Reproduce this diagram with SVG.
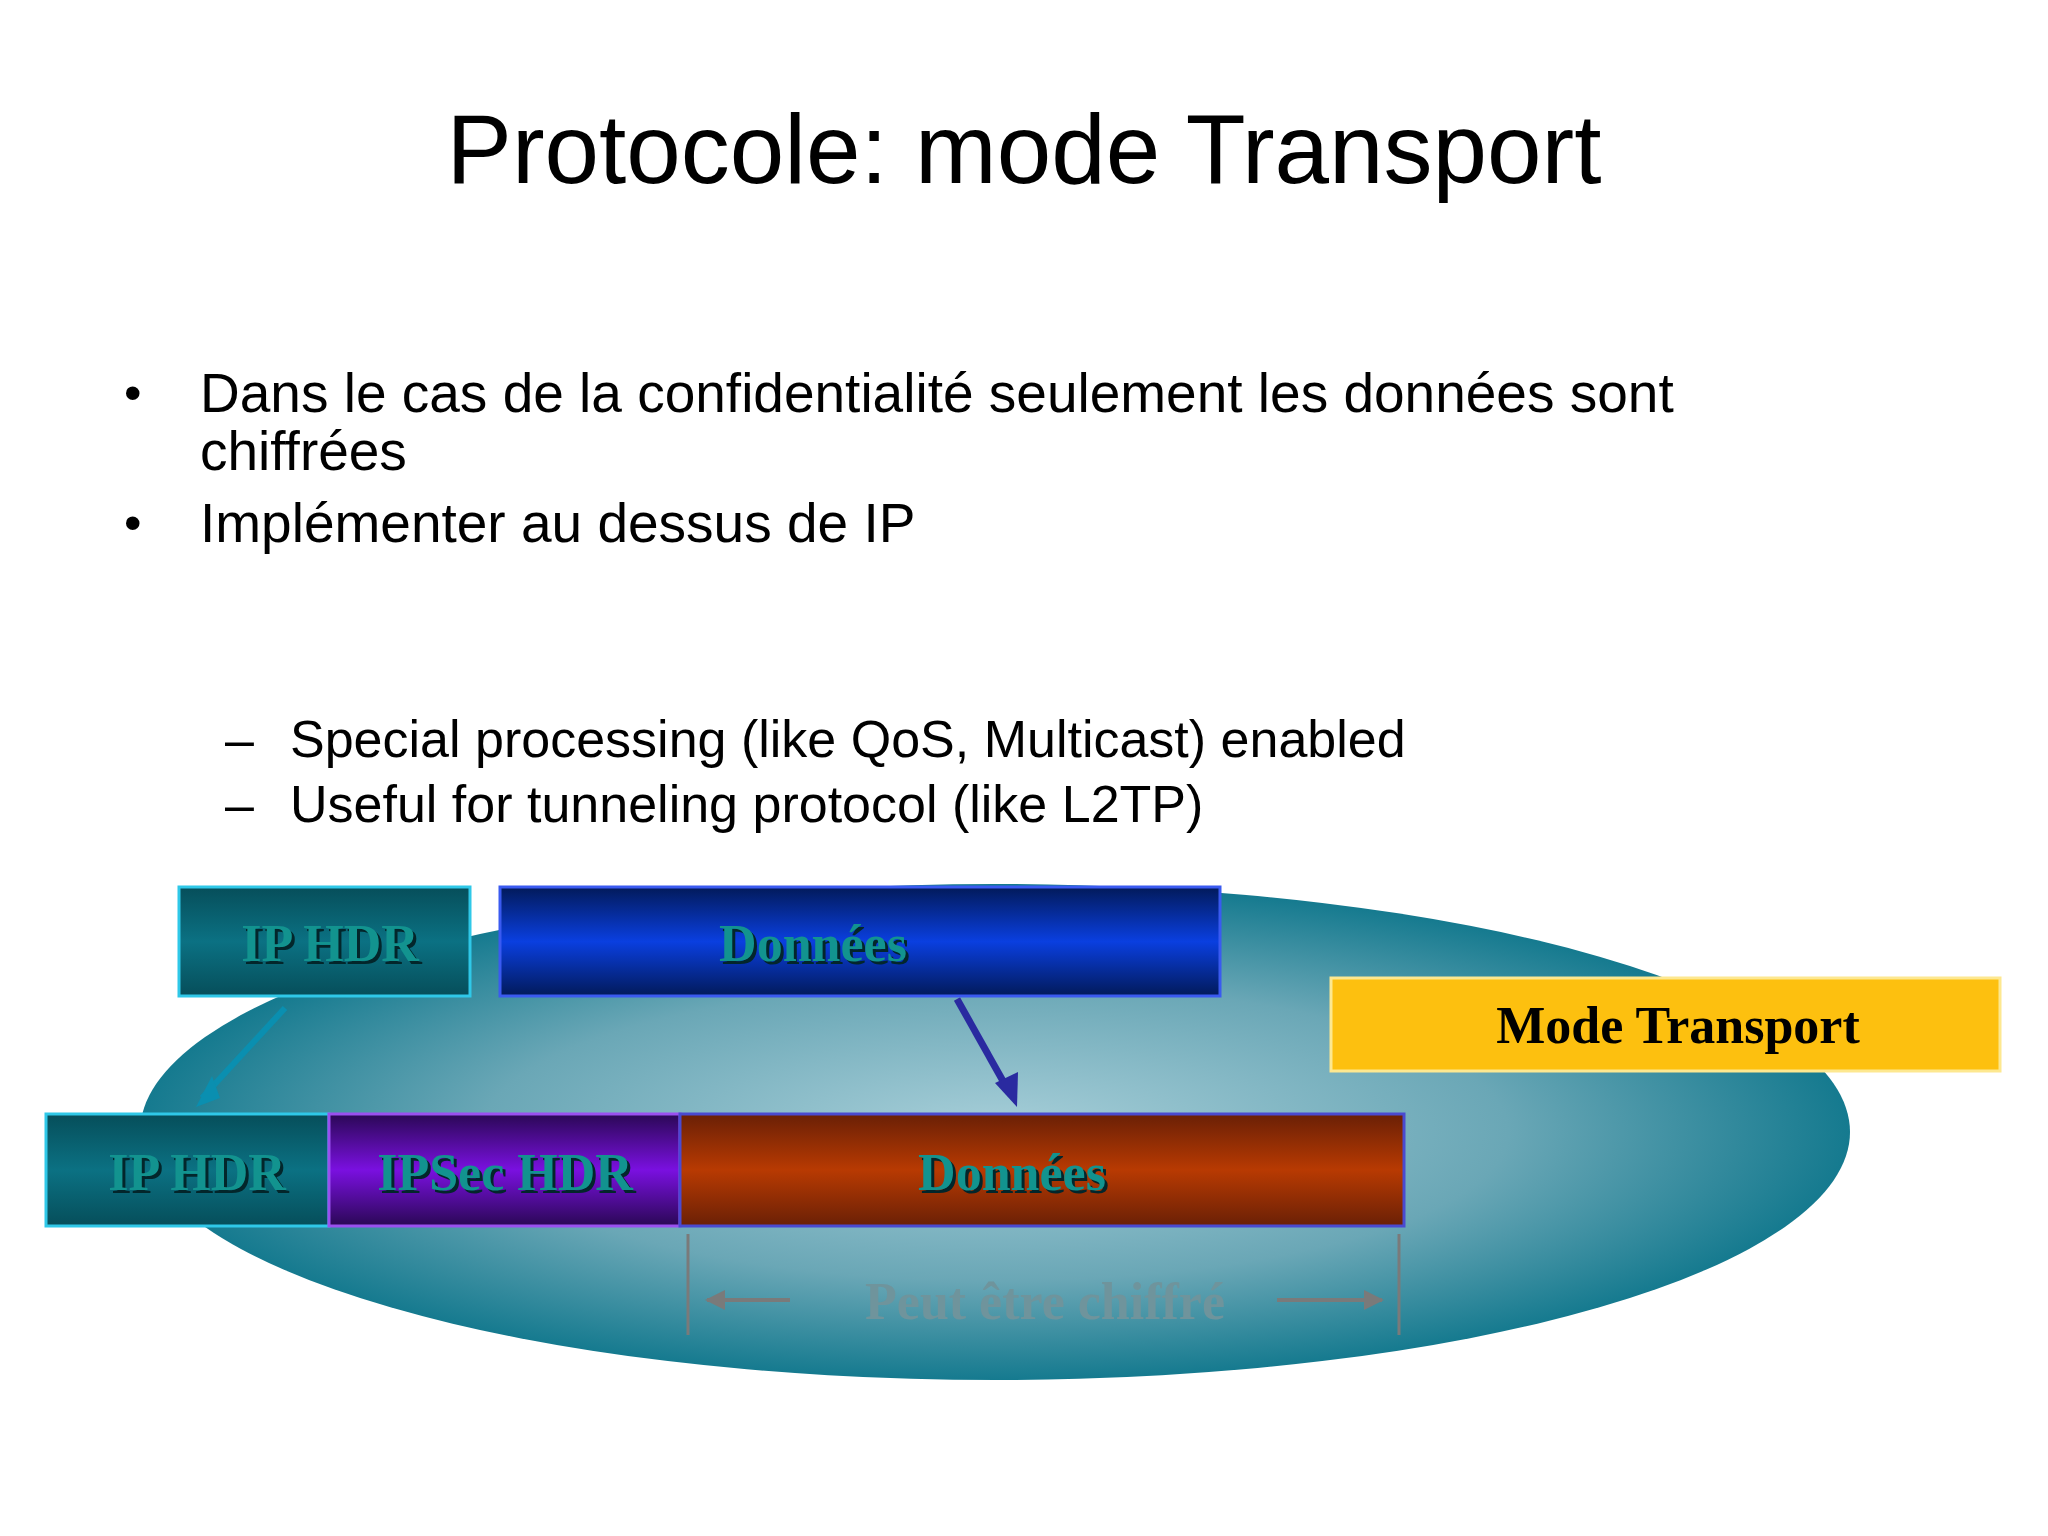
<svg xmlns="http://www.w3.org/2000/svg" width="2048" height="1536" viewBox="0 0 2048 1536">
<defs>
<radialGradient id="ell" cx="0.5" cy="0.5" r="0.5">
<stop offset="0" stop-color="#a8cfd9"/><stop offset="0.6" stop-color="#6aa7b6"/><stop offset="1" stop-color="#157a8f"/>
</radialGradient>
<linearGradient id="teal" x1="0" y1="0" x2="0" y2="1"><stop offset="0" stop-color="#064e5a"/><stop offset="0.5" stop-color="#0b7183"/><stop offset="1" stop-color="#064e5a"/></linearGradient>
<linearGradient id="blue" x1="0" y1="0" x2="0" y2="1"><stop offset="0" stop-color="#021a5a"/><stop offset="0.5" stop-color="#0a3fe0"/><stop offset="1" stop-color="#021a5a"/></linearGradient>
<linearGradient id="purple" x1="0" y1="0" x2="0" y2="1"><stop offset="0" stop-color="#2a0855"/><stop offset="0.5" stop-color="#7a10e0"/><stop offset="1" stop-color="#2a0855"/></linearGradient>
<linearGradient id="red" x1="0" y1="0" x2="0" y2="1"><stop offset="0" stop-color="#6a2006"/><stop offset="0.5" stop-color="#b83a02"/><stop offset="1" stop-color="#6a2006"/></linearGradient>
<marker id="ah" viewBox="0 0 10 10" refX="9" refY="5" markerWidth="5" markerHeight="5" orient="auto"><path d="M0,0L10,5L0,10z" fill="#7a7a7a"/></marker>
</defs>
<style>
.t{font-family:"Liberation Sans",Arial,sans-serif;fill:#000}
.bx{font-family:"Liberation Serif","Times New Roman",serif;font-weight:bold;font-size:52px;text-anchor:middle}
.lab{fill:#12938f}
.sh{fill:#03262b}
</style>
<rect width="2048" height="1536" fill="#fff"/>
<text class="t" x="1024" y="183" font-size="98" text-anchor="middle">Protocole: mode Transport</text>
<text class="t" x="124" y="410" font-size="50">•</text>
<text class="t" x="200" y="412" font-size="55">Dans le cas de la confidentialité seulement les données sont</text>
<text class="t" x="200" y="470" font-size="55">chiffrées</text>
<text class="t" x="124" y="540" font-size="50">•</text>
<text class="t" x="200" y="542" font-size="55">Implémenter au dessus de IP</text>
<text class="t" x="225" y="757" font-size="52">–</text>
<text class="t" x="290" y="757" font-size="52">Special processing (like QoS, Multicast) enabled</text>
<text class="t" x="225" y="822" font-size="52">–</text>
<text class="t" x="290" y="822" font-size="52">Useful for tunneling protocol (like L2TP)</text>
<ellipse cx="995" cy="1132" rx="855" ry="248" fill="url(#ell)"/>
<g id="connectors">
<line x1="285" y1="1008" x2="202" y2="1098" stroke="#0a8fb0" stroke-width="6"/>
<path d="M196,1107 L212,1076 L220,1098 z" fill="#0a8fb0"/>
<line x1="957" y1="999" x2="1008" y2="1090" stroke="#2a2aa0" stroke-width="7"/>
<path d="M1017,1107 L995,1083 L1018,1072 z" fill="#2a2aa0"/>
</g>
<g id="ip-hdr-top"><rect x="179" y="887" width="291" height="109" fill="url(#teal)" stroke="#2fc8e8" stroke-width="3"/>
<text class="bx sh" x="333" y="964">IP HDR</text><text class="bx lab" x="330" y="961">IP HDR</text></g>
<g id="donnees-top"><rect x="500" y="887" width="720" height="109" fill="url(#blue)" stroke="#3a5af0" stroke-width="3"/>
<text class="bx sh" x="816" y="964">Données</text><text class="bx lab" x="813" y="961">Données</text></g>
<g id="mode-transport"><rect x="1331" y="978" width="669" height="93" fill="#fdc00f" stroke="#fde890" stroke-width="3"/>
<text class="bx" x="1678" y="1043" fill="#000">Mode Transport</text></g>
<g id="ip-hdr-bottom"><rect x="46" y="1114" width="283" height="112" fill="url(#teal)" stroke="#2fc8e8" stroke-width="3"/>
<text class="bx sh" x="200" y="1193">IP HDR</text><text class="bx lab" x="197" y="1190">IP HDR</text></g>
<g id="ipsec-hdr"><rect x="329" y="1114" width="351" height="112" fill="url(#purple)" stroke="#9a50f0" stroke-width="3"/>
<text class="bx sh" x="508" y="1193">IPSec HDR</text><text class="bx lab" x="505" y="1190">IPSec HDR</text></g>
<g id="donnees-bottom"><rect x="680" y="1114" width="724" height="112" fill="url(#red)" stroke="#4a4ad0" stroke-width="3"/>
<text class="bx sh" x="1015" y="1193">Données</text><text class="bx lab" x="1012" y="1190">Données</text></g>
<g id="encrypted">
<line x1="688" y1="1234" x2="688" y2="1335" stroke="#7a7a7a" stroke-width="3"/>
<line x1="1399" y1="1234" x2="1399" y2="1335" stroke="#7a7a7a" stroke-width="3"/>
<line x1="790" y1="1300" x2="707" y2="1300" stroke="#7a7a7a" stroke-width="4" marker-end="url(#ah)"/>
<line x1="1277" y1="1300" x2="1382" y2="1300" stroke="#7a7a7a" stroke-width="4" marker-end="url(#ah)"/>
<text class="bx" x="1045" y="1319" font-size="46" fill="#6f949c">Peut être chiffré</text>
</g>
</svg>
